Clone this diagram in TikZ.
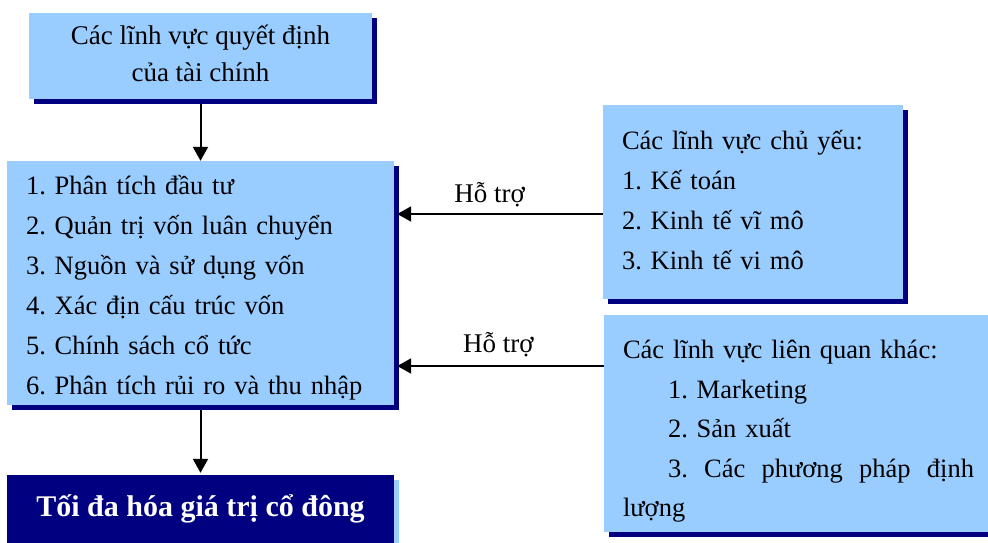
\documentclass[tikz,border=0pt]{standalone}
\usepackage{fontspec}
\setmainfont{Liberation Serif}
\frenchspacing
\usetikzlibrary{arrows.meta,shadows,calc}
\definecolor{lightbox}{HTML}{99CCFF}
\definecolor{navybox}{HTML}{000080}
\begin{document}
\begin{tikzpicture}[x=1pt,y=-1pt,
  every node/.style={font=\fontsize{26.5}{40}\selectfont},
  lbox/.style={fill=lightbox, draw=none, inner sep=0pt, rectangle,
    drop shadow={shadow xshift=5pt, shadow yshift=-5pt, fill=navybox, opacity=1}},
  dbox/.style={fill=navybox, draw=none, inner sep=0pt, rectangle,
    drop shadow={shadow xshift=5pt, shadow yshift=-5pt, fill=lightbox, opacity=1}},
  txt/.style={inner sep=0pt, align=left},
  arr/.style={line width=2pt, -{Triangle[width=15pt,length=14pt]}},
  lbl/.style={font=\fontsize{27}{32}\selectfont}
]
\useasboundingbox (0,0) rectangle (988,542);
\fill[white] (0,0) rectangle (988,542);

% top box
\node[lbox, minimum width=343pt, minimum height=86pt] (top) at (200.5,56) {};
\node[txt, align=center, font=\fontsize{27}{37}\selectfont] (topt)
  at ([yshift=2.5pt]top.center) {Các lĩnh vực quyết định\\của tài chính};

% left box
\node[lbox, minimum width=387pt, minimum height=244pt] (lb) at (200.5,283) {};
\node[txt, text width=349pt] (lbt) at ([yshift=-4.5pt]lb.center)
  {1. Phân tích đầu tư\\
   2. Quản trị vốn luân chuyển\\
   3. Nguồn và sử dụng vốn\\
   4. Xác địn cấu trúc vốn\\
   5. Chính sách cổ tức\\
   6. Phân tích rủi ro và thu nhập};

% right top box
\node[lbox, minimum width=300pt, minimum height=194pt] (rt) at (753,202) {};
\node[txt, text width=262pt] (rtt) at ([yshift=2pt]rt.center)
  {Các lĩnh vực chủ yếu:\\
   1. Kế toán\\
   2. Kinh tế vĩ mô\\
   3. Kinh tế vi mô};

% right bottom box
\node[lbox, minimum width=390pt, minimum height=217pt] (rb) at (799,423.5) {};
\node[txt, text width=352pt, font=\fontsize{26.5}{39.5}\selectfont] (rbt)
  at ([yshift=-8pt]rb.center)
  {Các lĩnh vực liên quan khác:\\
   \hspace*{45pt}1. Marketing\\
   \hspace*{45pt}2. Sản xuất\\
   \leavevmode\hbox to 351pt{\hspace*{45pt}3.\hfill Các\hfill phương\hfill pháp\hfill định}\\
   lượng};

% bottom box
\node[dbox, minimum width=387pt, minimum height=80pt] (bot) at (200.5,515) {};
\node[inner sep=0pt, text=white, font=\fontsize{30}{34}\selectfont\bfseries] (bott)
  at ([yshift=6pt]bot.center) {Tối đa hóa giá trị cổ đông};

% connectors
\draw[arr] ([yshift=-5pt]top.south) -- (lb.north);
\draw[arr] ([yshift=-5pt]lb.south) -- ([yshift=2pt]lb.south |- bot.north);
\draw[arr] ([yshift=-12pt]rt.west) -- ([yshift=-12pt, xshift=3pt]rt.west -| lb.east)
  node[lbl, pos=0.55, yshift=19pt] (h1) {Hỗ trợ};
\draw[arr] ([yshift=57.5pt]rb.west) -- ([yshift=57.5pt, xshift=3pt]rb.west -| lb.east)
  node[lbl, pos=0.51, yshift=21pt] (h2) {Hỗ trợ};
\end{tikzpicture}
\end{document}
